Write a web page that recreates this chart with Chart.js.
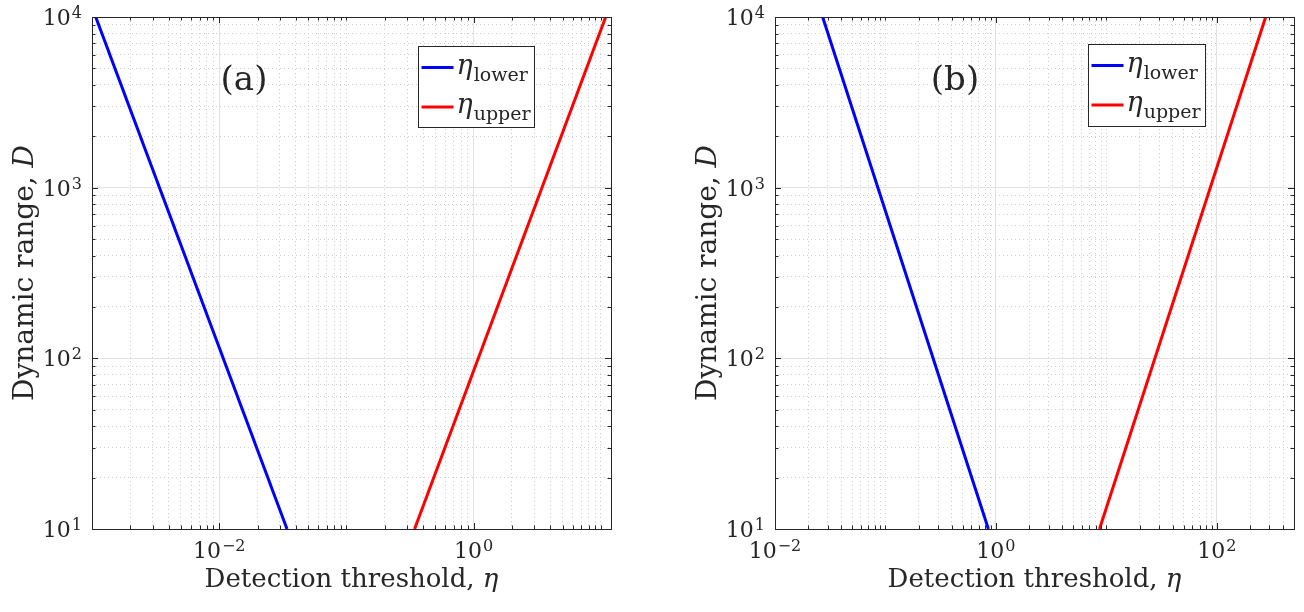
<!DOCTYPE html>
<html>
<head>
<meta charset="utf-8">
<script src="https://cdn.jsdelivr.net/npm/chart.js@4.4.1/dist/chart.umd.min.js"></script>
<style>
  html, body { margin: 0; padding: 0; background: #fff; }
  #wrap { position: relative; width: 1304px; height: 612px; }
  .pane { position: absolute; top: 0; width: 652px; height: 612px; }
</style>
</head>
<body>
<div id="wrap">
  <div class="pane" style="left:0"><canvas id="chartA" width="652" height="612"></canvas></div>
  <div class="pane" style="left:652px"><canvas id="chartB" width="652" height="612"></canvas></div>
</div>
<script>
/* ---- data ---- */
// panel (a)
const etaLowerA = [0.00107, 0.0341];
const dLowerA   = [10000, 10];
const etaUpperA = [0.343, 10.9];
const dUpperA   = [10, 10000];
// panel (b)
const etaLowerB = [0.027, 0.855];
const dLowerB   = [10000, 10];
const etaUpperB = [8.67, 277];
const dUpperB   = [10, 10000];

const legendSubs = ['lower', 'upper'];
const xRangeA = [0.001, 12];
const xRangeB = [0.01, 500];
const yRange  = [10, 10000];
const xLabelExpA = [-2, 0];
const xLabelExpB = [-2, 0, 2];
const yLabelExp  = [1, 2, 3, 4];

const SERIF = '"DejaVu Serif", serif';
const AXIS = '#262626';
const GRID_MAJOR = '#e2e2e2';
const GRID_MINOR = '#cfcfcf';

const isExp = (v, exps) => exps.some(e => Math.abs(Math.log10(v) - e) < 1e-6);

// 1..9 x 10^n inside the open range (edges sit on the box)
function logTicks(min, max) {
  const out = [];
  for (let e = Math.floor(Math.log10(min)); e <= Math.ceil(Math.log10(max)); e++) {
    for (let m = 1; m <= 9; m++) {
      const v = +(m * Math.pow(10, e)).toPrecision(6);
      if (v > min * 1.0001 && v < max * 0.9999) out.push({ value: v });
    }
  }
  return out;
}

function supLabel(ctx, exp, x, yc, align) {
  const base = '10', sup = exp < 0 ? '\u2212' + (-exp) : String(exp);
  ctx.font = '22px ' + SERIF;
  const wb = ctx.measureText(base).width;
  ctx.font = '16px ' + SERIF;
  const ws = ctx.measureText(sup).width;
  const w = wb + ws + 1;
  const x0 = align === 'right' ? x - w : x - w / 2;
  ctx.font = '22px ' + SERIF;
  ctx.fillText(base, x0, yc + 8);
  ctx.font = '16px ' + SERIF;
  ctx.fillText(sup, x0 + wb + 1, yc + 1);
}

const matlabAxes = {
  id: 'matlabAxes',
  afterDraw(chart, args, o) {
    const { ctx, chartArea: a, scales: { x, y } } = chart;
    ctx.save();
    ctx.textAlign = 'left';
    ctx.textBaseline = 'alphabetic';

    // inward ticks on all four sides
    ctx.strokeStyle = AXIS;
    ctx.lineWidth = 1;
    ctx.beginPath();
    x.ticks.forEach(t => {
      const px = Math.round(x.getPixelForValue(t.value)) + .5;
      const len = isExp(t.value, o.xLabelExp) ? 6 : 3.5;
      ctx.moveTo(px, a.bottom); ctx.lineTo(px, a.bottom - len);
      ctx.moveTo(px, a.top);    ctx.lineTo(px, a.top + len);
    });
    y.ticks.forEach(t => {
      const py = Math.round(y.getPixelForValue(t.value)) + .5;
      const len = isExp(t.value, yLabelExp) ? 6 : 3.5;
      ctx.moveTo(a.left, py);  ctx.lineTo(a.left + len, py);
      ctx.moveTo(a.right, py); ctx.lineTo(a.right - len, py);
    });
    ctx.stroke();
    ctx.strokeRect(Math.round(a.left) + .5, Math.round(a.top) + .5,
      Math.round(a.right - a.left), Math.round(a.bottom - a.top));

    // tick labels
    ctx.fillStyle = AXIS;
    o.xLabelExp.forEach(e => supLabel(ctx, e, x.getPixelForValue(Math.pow(10, e)), a.bottom + 21, 'center'));
    yLabelExp.forEach(e => supLabel(ctx, e, a.left - 10, y.getPixelForValue(Math.pow(10, e)), 'right'));

    // x title
    const cx = (a.left + a.right) / 2;
    ctx.font = '26px ' + SERIF;
    const t1 = 'Detection threshold, ';
    const w1 = ctx.measureText(t1).width;
    ctx.font = 'italic 26px ' + SERIF;
    const w2 = ctx.measureText('\u03b7').width;
    let sx = cx - (w1 + w2) / 2;
    ctx.font = '26px ' + SERIF;
    ctx.fillText(t1, sx, a.bottom + 58);
    ctx.font = 'italic 26px ' + SERIF;
    ctx.fillText('\u03b7', sx + w1, a.bottom + 58);

    // y title
    ctx.save();
    ctx.translate(a.left - 59, (a.top + a.bottom) / 2);
    ctx.rotate(-Math.PI / 2);
    ctx.font = '28px ' + SERIF;
    const t3 = 'Dynamic range, ';
    const w3 = ctx.measureText(t3).width;
    ctx.font = 'italic 28px ' + SERIF;
    const w4 = ctx.measureText('D').width;
    sx = -(w3 + w4) / 2;
    ctx.font = '28px ' + SERIF;
    ctx.fillText(t3, sx, 0);
    ctx.font = 'italic 28px ' + SERIF;
    ctx.fillText('D', sx + w3, 0);
    ctx.restore();

    // panel label
    ctx.font = '34px ' + SERIF;
    ctx.textAlign = 'center';
    ctx.textBaseline = 'middle';
    ctx.fillText(o.panel, a.left + o.panelDx, a.top + o.panelDy);

    // legend
    const lg = o.legend;
    const bx = Math.round(a.right - lg.right - lg.w) + .5;
    const by = Math.round(a.top + lg.top) + .5;
    ctx.fillStyle = '#fff';
    ctx.fillRect(bx, by, lg.w, lg.h);
    ctx.strokeStyle = AXIS;
    ctx.lineWidth = 1;
    ctx.strokeRect(bx, by, lg.w, lg.h);
    ctx.textAlign = 'left';
    ctx.textBaseline = 'alphabetic';
    chart.data.datasets.forEach((ds, i) => {
      const ly = by + 21 + i * 39.5;
      ctx.strokeStyle = ds.borderColor;
      ctx.lineWidth = 3;
      ctx.beginPath(); ctx.moveTo(bx + 3, ly); ctx.lineTo(bx + 35, ly); ctx.stroke();
      ctx.fillStyle = AXIS;
      ctx.font = 'italic 27px ' + SERIF;
      const we = ctx.measureText('\u03b7').width;
      ctx.fillText('\u03b7', bx + 38, ly + 6);
      ctx.font = '19px ' + SERIF;
      ctx.fillText(legendSubs[i], bx + 38 + we + 1, ly + 13);
    });
    ctx.restore();
  }
};

function lineSet(eta, d, color, label) {
  return { label, data: eta.map((x, i) => ({ x, y: d[i] })), borderColor: color, backgroundColor: color,
    borderWidth: 3, showLine: true, pointRadius: 0, tension: 0 };
}

function logAxis(range, labelExp, fit) {
  return {
    type: 'logarithmic', min: range[0], max: range[1],
    afterBuildTicks: s => { s.ticks = logTicks(range[0], range[1]); },
    afterFit: fit,
    ticks: { display: false },
    grid: { drawTicks: false, lineWidth: 1,
      color: c => (c.tick && isExp(c.tick.value, labelExp)) ? GRID_MAJOR : GRID_MINOR },
    border: { display: false,
      dash: c => (c.tick && isExp(c.tick.value, labelExp)) ? [] : [1, 3] }
  };
}

function chartCfg(sets, xRange, xLabelExp, yWidth, padRight, deco) {
  return {
    type: 'scatter',
    data: { datasets: sets },
    options: {
      responsive: false, animation: false, devicePixelRatio: 1,
      layout: { padding: { top: 17, right: padRight, left: 0, bottom: 0 } },
      plugins: { legend: { display: false }, tooltip: { enabled: false },
        matlabAxes: Object.assign({ xLabelExp }, deco) },
      scales: {
        x: logAxis(xRange, xLabelExp, s => { s.height = 83; }),
        y: logAxis(yRange, yLabelExp, s => { s.width = yWidth; })
      }
    },
    plugins: [matlabAxes]
  };
}

new Chart(document.getElementById('chartA'), chartCfg(
  [lineSet(etaLowerA, dLowerA, '#0000ff', 'lower'), lineSet(etaUpperA, dUpperA, '#ff0000', 'upper')],
  xRangeA, xLabelExpA, 92, 41,
  { panel: '(a)', panelDx: 152, panelDy: 64, legend: { right: 77, top: 29, w: 116, h: 81 } }));

new Chart(document.getElementById('chartB'), chartCfg(
  [lineSet(etaLowerB, dLowerB, '#0000ff', 'lower'), lineSet(etaUpperB, dUpperB, '#ff0000', 'upper')],
  xRangeB, xLabelExpB, 123, 10,
  { panel: '(b)', panelDx: 180, panelDy: 64, legend: { right: 89, top: 27, w: 117, h: 82 } }));
</script>
</body>
</html>
